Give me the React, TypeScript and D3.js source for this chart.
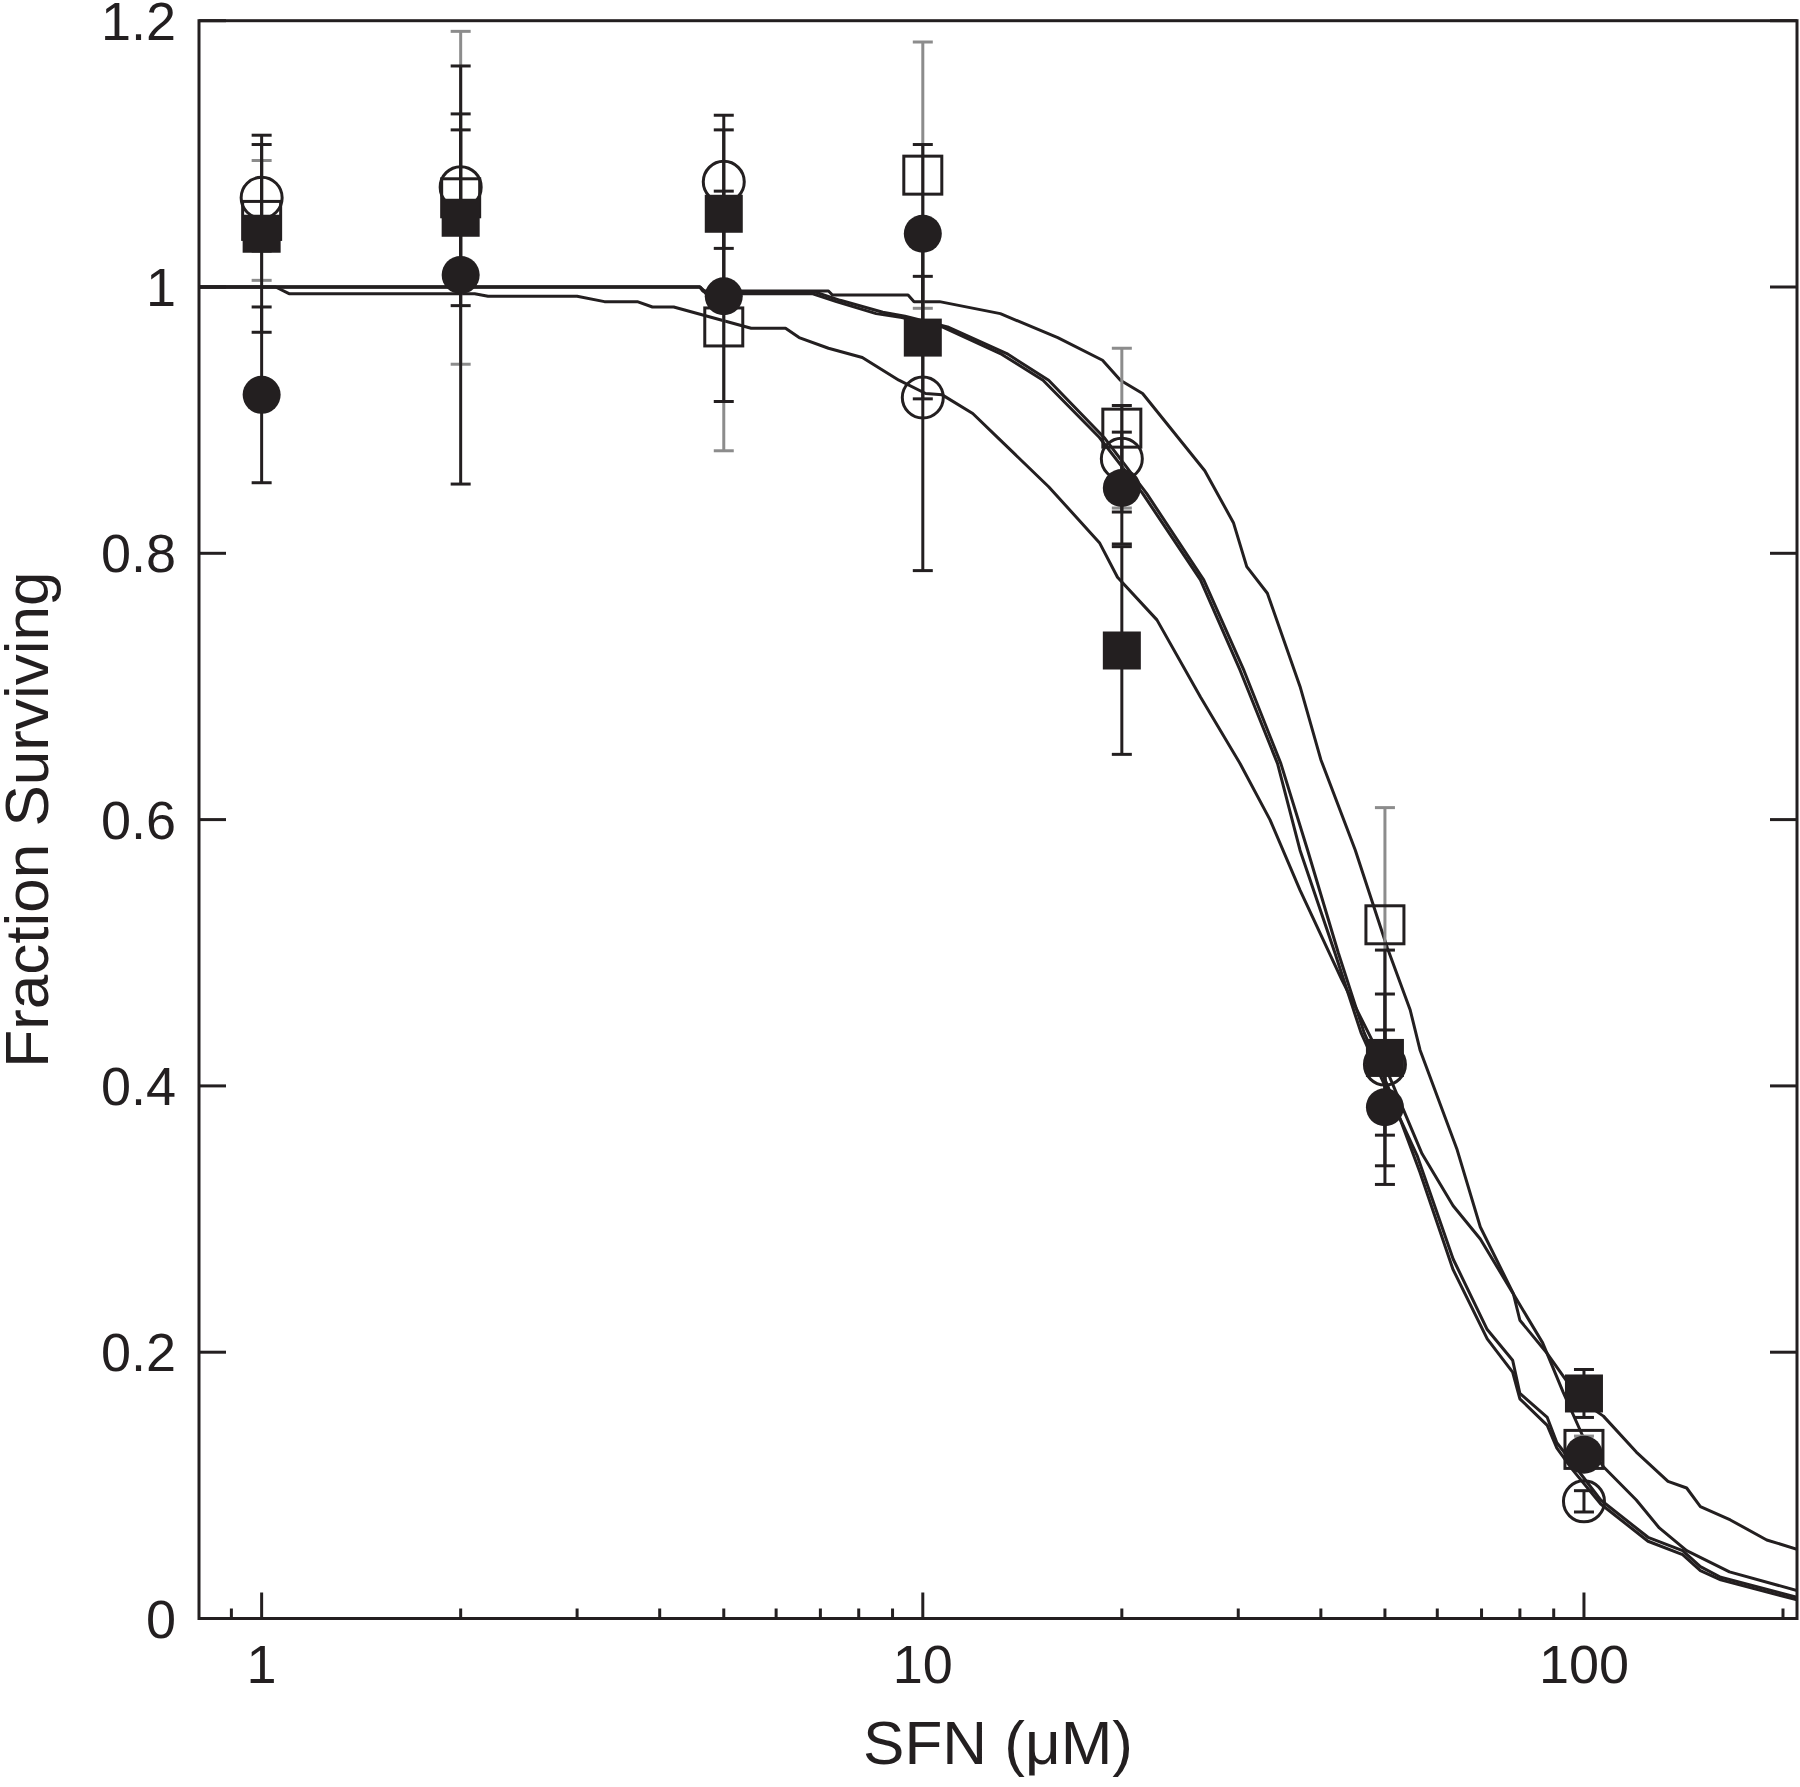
import React from "react";
import * as d3 from "d3";

// ---- data ----
const doses = [1, 2, 5, 10, 20, 50, 100];

const openCircleMean = [1.067, 1.075, 1.079, 0.917, 0.871, 0.416, 0.088];
const openCircleErr = [0.04, 0.055, 0.05, 0.13, 0.04, 0.053, 0.008];

const openSquareMean = [1.05, 1.067, 0.97, 1.084, 0.894, 0.521, 0.127];
const openSquareErr = [0.045, 0.125, 0.093, 0.1, 0.06, 0.088, 0.01];

const filledSquareMean = [1.04, 1.052, 1.055, 0.962, 0.727, 0.421, 0.169];
const filledSquareErr = [0.074, 0.066, 0.063, 0.046, 0.078, 0.081, 0.018];

const filledCircleMean = [0.919, 1.009, 0.993, 1.04, 0.849, 0.384, 0.123];
const filledCircleErr = [0.066, 0.157, 0.079, 0.067, 0.042, 0.058, 0.008];

const curve1: [number, number][] = [
  [0.804, 1.0], [4.6, 1.0], [4.65, 0.997], [7.2, 0.997], [7.3, 0.994], [9.5, 0.994],
  [9.7, 0.989], [10.6, 0.989], [13.1, 0.98], [16, 0.962], [18.7, 0.945], [19.9, 0.93],
  [21.5, 0.92], [26.7, 0.862], [29.5, 0.823], [30.9, 0.79], [33.2, 0.77], [37.2, 0.7],
  [40, 0.645], [45.1, 0.577], [50.4, 0.504], [54.6, 0.457], [56.5, 0.427], [64.3, 0.352],
  [69.7, 0.294], [78.2, 0.244], [80, 0.224], [88, 0.199], [98.7, 0.164], [107, 0.152],
  [120, 0.125], [134, 0.103], [143, 0.098], [150, 0.084], [166.5, 0.074], [189, 0.059],
  [210, 0.052],
];

const curve2: [number, number][] = [
  [0.804, 1.0], [4.6, 1.0], [4.7, 0.995], [6.8, 0.995], [7.4, 0.989], [8.5, 0.98],
  [9.3, 0.977], [10.7, 0.97], [13.1, 0.95], [15.2, 0.93], [18.5, 0.887], [21.5, 0.845],
  [26.3, 0.78], [30.2, 0.712], [34.4, 0.642], [37.2, 0.577], [42, 0.5], [46, 0.44],
  [50, 0.4], [56, 0.347], [63.4, 0.27], [71.4, 0.217], [78, 0.194], [80, 0.169],
  [88, 0.151], [91, 0.132], [96, 0.117], [106, 0.089], [125, 0.061], [141, 0.051],
  [150, 0.039], [161, 0.031], [210, 0.016],
];

const curve3: [number, number][] = [
  [0.804, 1.0], [4.6, 1.0], [4.7, 0.996], [6.9, 0.996], [7.5, 0.99], [8.7, 0.981],
  [9.4, 0.978], [10.9, 0.97], [13.4, 0.95], [15.5, 0.93], [18.8, 0.887], [21.8, 0.845],
  [26.6, 0.78], [30.6, 0.712], [34.8, 0.642], [38.2, 0.577], [42.5, 0.5], [46.5, 0.44],
  [50.5, 0.4], [56.5, 0.335], [63.4, 0.262], [71.4, 0.21], [78, 0.185], [80, 0.165],
  [88, 0.145], [91, 0.128], [96, 0.112], [106, 0.086], [125, 0.058], [141, 0.048],
  [150, 0.036], [161, 0.029], [210, 0.014],
];

const curve4: [number, number][] = [
  [0.804, 1.0], [1.05, 1.0], [1.1, 0.995], [2.1, 0.995], [2.2, 0.993], [3.0, 0.993],
  [3.3, 0.989], [3.7, 0.989], [3.9, 0.985], [4.2, 0.985], [5.5, 0.969], [6.2, 0.969],
  [6.5, 0.962], [7.2, 0.954], [8.1, 0.947], [9.2, 0.93], [10.1, 0.92], [10.7, 0.919],
  [11.9, 0.905], [13.1, 0.885], [15.5, 0.85], [18.5, 0.808], [19.7, 0.782], [22.6, 0.75],
  [26.3, 0.692], [30.2, 0.642], [33.5, 0.6], [37.2, 0.547], [43, 0.48], [50, 0.415],
  [56.9, 0.349], [63.4, 0.31], [69.7, 0.285], [77.5, 0.247], [86.6, 0.207], [93, 0.17],
  [100, 0.135], [107, 0.114], [120, 0.089], [130, 0.068], [143, 0.051], [166, 0.035],
  [210, 0.021],
];

const yTicks = [0, 0.2, 0.4, 0.6, 0.8, 1, 1.2];
const yTickLabels = ["0", "0.2", "0.4", "0.6", "0.8", "1", "1.2"];
const xMajorTicks = [1, 10, 100];
const xMajorLabels = ["1", "10", "100"];
const xMinorTicks = [0.9, 2, 3, 4, 5, 6, 7, 8, 9, 20, 30, 40, 50, 60, 70, 80, 90, 200];

const xTitle = "SFN (\u03bcM)";
const yTitle = "Fraction Surviving";

export default function App() {
  const W = 1800;
  const H = 1787;
  const left = 199;
  const right = 1797;
  const top = 20.7;
  const bottom = 1618.5;
  const ink = "#231f20";
  const gray = "#8c8c8c";
  const font = "'Liberation Sans', Arial, Helvetica, sans-serif";
  const tickFont = 54;
  const titleFont = 62;

  const x = d3.scaleLog().domain([0.804, 210]).range([left, right]);
  const y = d3.scaleLinear().domain([0, 1.2]).range([bottom, top]);
  const line = d3
    .line<[number, number]>()
    .x((d) => x(d[0]))
    .y((d) => y(d[1]));

  const capW = 20;
  const errBars = (means: number[], errs: number[], color: string, key: string) =>
    doses.map((d, i) => {
      const cx = x(d);
      const y1 = y(means[i] + errs[i]);
      const y2 = y(means[i] - errs[i]);
      return (
        <g key={key + i} stroke={color} strokeWidth={3}>
          <line x1={cx} x2={cx} y1={y1} y2={y2} />
          <line x1={cx - capW / 2} x2={cx + capW / 2} y1={y1} y2={y1} />
          <line x1={cx - capW / 2} x2={cx + capW / 2} y1={y2} y2={y2} />
        </g>
      );
    });

  const curves = [curve1, curve2, curve3, curve4];

  return (
    <svg
      width={W}
      height={H}
      viewBox={`0 0 ${W} ${H}`}
      style={{ position: "absolute", left: 0, top: 0, background: "#fff" }}
    >
      <rect x={0} y={0} width={W} height={H} fill="#fff" />
      <defs>
        <clipPath id="plotClip">
          <rect x={left} y={top} width={right - left} height={bottom - top} />
        </clipPath>
      </defs>

      {/* fitted curves */}
      <g clipPath="url(#plotClip)">
        {curves.map((c, i) => (
          <path key={"c" + i} d={line(c) || ""} fill="none" stroke={ink} strokeWidth={3} strokeLinejoin="round" />
        ))}
      </g>

      {/* error bars */}
      {errBars(openSquareMean, openSquareErr, gray, "esq")}
      {errBars(openCircleMean, openCircleErr, ink, "eoc")}
      {errBars(filledSquareMean, filledSquareErr, ink, "efs")}
      {errBars(filledCircleMean, filledCircleErr, ink, "efc")}

      {/* markers */}
      {doses.map((d, i) => (
        <rect
          key={"os" + i}
          x={x(d) - 19}
          y={y(openSquareMean[i]) - 19}
          width={38}
          height={38}
          fill="none"
          stroke={ink}
          strokeWidth={3}
        />
      ))}
      {doses.map((d, i) => (
        <circle key={"oc" + i} cx={x(d)} cy={y(openCircleMean[i])} r={20.5} fill="none" stroke={ink} strokeWidth={3} />
      ))}
      {doses.map((d, i) => (
        <rect
          key={"fs" + i}
          x={x(d) - 19}
          y={y(filledSquareMean[i]) - 19}
          width={38}
          height={38}
          fill={ink}
        />
      ))}
      {doses.map((d, i) => (
        <circle key={"fc" + i} cx={x(d)} cy={y(filledCircleMean[i])} r={19} fill={ink} />
      ))}

      {/* frame */}
      <rect x={left} y={top} width={right - left} height={bottom - top} fill="none" stroke={ink} strokeWidth={3} />

      {/* y ticks (left & right, inward) */}
      {yTicks.map((t, i) => (
        <g key={"yt" + i} stroke={ink} strokeWidth={3}>
          <line x1={left} x2={left + 27} y1={y(t)} y2={y(t)} />
          <line x1={right} x2={right - 27} y1={y(t)} y2={y(t)} />
        </g>
      ))}
      {yTicks.map((t, i) => (
        <text
          key={"yl" + i}
          x={176}
          y={y(t) + 19}
          textAnchor="end"
          fontFamily={font}
          fontSize={tickFont}
          fill={ink}
        >
          {yTickLabels[i]}
        </text>
      ))}

      {/* x ticks */}
      {xMajorTicks.map((t, i) => (
        <line key={"xM" + i} x1={x(t)} x2={x(t)} y1={bottom} y2={bottom - 26} stroke={ink} strokeWidth={3} />
      ))}
      {xMinorTicks.map((t, i) => (
        <line key={"xm" + i} x1={x(t)} x2={x(t)} y1={bottom} y2={bottom - 10} stroke={ink} strokeWidth={3} />
      ))}
      {xMajorTicks.map((t, i) => (
        <text
          key={"xl" + i}
          x={x(t)}
          y={1683}
          textAnchor="middle"
          fontFamily={font}
          fontSize={tickFont}
          fill={ink}
        >
          {xMajorLabels[i]}
        </text>
      ))}

      {/* axis titles */}
      <text x={(left + right) / 2} y={1764} textAnchor="middle" fontFamily={font} fontSize={titleFont} fill={ink}>
        {xTitle}
      </text>
      <text
        transform={`translate(48, ${(top + bottom) / 2}) rotate(-90)`}
        textAnchor="middle"
        fontFamily={font}
        fontSize={titleFont}
        fill={ink}
      >
        {yTitle}
      </text>
    </svg>
  );
}
